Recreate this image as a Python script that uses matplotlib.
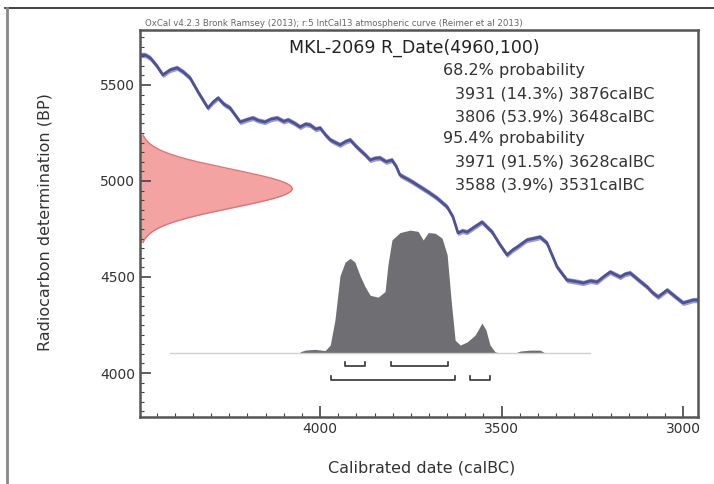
import numpy as np
import matplotlib
matplotlib.use("Agg")
import matplotlib.pyplot as plt
from matplotlib.lines import Line2D
from matplotlib.ticker import MultipleLocator

# IntCal13 curve (calBC, BP)
curve_year = [4493, 4482, 4468, 4450, 4433, 4413, 4394, 4377, 4358, 4335, 4309, 4295,
              4281, 4265, 4248, 4220, 4200, 4185, 4170, 4152, 4135, 4118, 4100, 4088,
              4070, 4055, 4040, 4028, 4012, 4000, 3985, 3972, 3958, 3945, 3930, 3917,
              3903, 3890, 3875, 3862, 3848, 3835, 3818, 3802, 3790, 3780, 3750, 3724,
              3700, 3678, 3650, 3634, 3620, 3608, 3595, 3575, 3554, 3540, 3526, 3505,
              3485, 3470, 3457, 3430, 3412, 3394, 3375, 3360, 3347, 3320, 3300, 3275,
              3255, 3237, 3220, 3201, 3173, 3160, 3146, 3120, 3099, 3085, 3069, 3044,
              3020, 3000, 2972, 2959]
curve_bp = [5656, 5656, 5641, 5600, 5552, 5578, 5589, 5568, 5536, 5460, 5380, 5410,
            5432, 5400, 5380, 5307, 5320, 5328, 5315, 5307, 5322, 5328, 5310, 5318,
            5300, 5281, 5296, 5292, 5270, 5276, 5240, 5214, 5200, 5188, 5205, 5214,
            5185, 5161, 5135, 5109, 5118, 5120, 5100, 5109, 5075, 5031, 5000, 4969,
            4940, 4911, 4865, 4813, 4729, 4740, 4734, 4760, 4786, 4760, 4734, 4670,
            4615, 4640, 4656, 4693, 4700, 4708, 4677, 4610, 4552, 4484, 4478, 4469,
            4480, 4474, 4500, 4526, 4500, 4515, 4521, 4480, 4448, 4420, 4396, 4432,
            4395, 4365, 4380, 4380]

# calibrated probability (relative)
cal_year = [4055, 4041, 4014, 3986, 3972, 3959, 3945, 3931, 3917, 3904, 3890, 3876,
            3862, 3840, 3821, 3813, 3802, 3780, 3752, 3730, 3716, 3702, 3683, 3664,
            3650, 3639, 3628, 3614, 3595, 3573, 3554, 3543, 3532, 3518, 3504, 3463,
            3449, 3421, 3394, 3380]
cal_prob = [0.01, 0.024, 0.03, 0.02, 0.065, 0.27, 0.63, 0.74, 0.77, 0.74, 0.63, 0.54,
            0.47, 0.455, 0.50, 0.72, 0.92, 0.98, 1.0, 0.99, 0.92, 0.98, 0.975, 0.935,
            0.80, 0.43, 0.105, 0.065, 0.09, 0.146, 0.244, 0.187, 0.065, 0.01, 0.0, 0.0,
            0.016, 0.024, 0.024, 0.0]

# ranges (from, to) calBC
ranges_68 = [(3931, 3876), (3806, 3648)]
ranges_95 = [(3971, 3628), (3588, 3531)]

r_date = 4960
r_err = 100

title = "MKL-2069 R_Date(4960,100)"
header = "OxCal v4.2.3 Bronk Ramsey (2013); r:5 IntCal13 atmospheric curve (Reimer et al 2013)"
prob_lines = ["68.2% probability",
              "3931 (14.3%) 3876calBC",
              "3806 (53.9%) 3648calBC",
              "95.4% probability",
              "3971 (91.5%) 3628calBC",
              "3588 (3.9%) 3531calBC"]

W, H = 714, 484
fig = plt.figure(figsize=(W / 100, H / 100), dpi=100)
ax = fig.add_axes([140 / W, 1 - 417 / H, 558 / W, 387 / H])

x_left, x_right = 4496, 2959
y_bot, y_top = 3771, 5786
ax.set_xlim(x_left, x_right)
ax.set_ylim(y_bot, y_top)

# radiocarbon date on the y axis
yy = np.linspace(r_date - 2.8 * r_err, r_date + 2.8 * r_err, 200)
dens = np.exp(-0.5 * ((yy - r_date) / r_err) ** 2)
ax.fill_betweenx(yy, x_left, x_left - 419 * dens, color="#f4a3a3", lw=0)
ax.plot(x_left - 419 * dens, yy, color="#d77777", lw=1)

# calibration curve
cy = np.array(curve_bp)
ax.fill_between(curve_year, cy - 14, cy + 14, color="#9a9dcc", lw=0)
ax.plot(curve_year, curve_bp, color="#4e5293", lw=2)

# calibrated distribution
base = 4104
ax.plot([4413, 3256], [base, base], color="#d0d0d0", lw=1)
ax.fill_between(cal_year, base, base + 640 * np.array(cal_prob), color="#6e6e73", lw=0)

# range brackets
def bracket(r, y):
    a, b = r
    ax.plot([a, a, b, b], [y + 20, y, y, y + 20], color="#333333", lw=1.2)

for r in ranges_68:
    bracket(r, 4037)
for r in ranges_95:
    bracket(r, 3964)

ax.xaxis.set_major_locator(MultipleLocator(500))
ax.xaxis.set_minor_locator(MultipleLocator(50))
ax.yaxis.set_major_locator(MultipleLocator(500))
ax.yaxis.set_minor_locator(MultipleLocator(50))
ax.tick_params(which="both", direction="in", top=False, right=False,
               colors="#444444", labelcolor="#333333", labelsize=10)
ax.tick_params(which="major", length=8, width=1.2)
ax.tick_params(which="minor", length=3, width=0.8)
for s in ax.spines.values():
    s.set_color("#555555")
    s.set_linewidth(1.8)

fig.text(414 / W, 1 - 48 / H, title, ha="center", va="center", fontsize=12.5, color="#222222")
fig.text(145 / W, 1 - 23 / H, header, ha="left", va="center", fontsize=6.2, color="#666666")
px = [443, 455, 455, 443, 455, 455]
py = [70, 94, 117, 139, 162, 185]
for t, x, y in zip(prob_lines, px, py):
    fig.text(x / W, 1 - y / H, t, ha="left", va="center", fontsize=11.5, color="#333333")

fig.text(45 / W, 1 - 222 / H, "Radiocarbon determination (BP)", rotation=90,
         ha="center", va="center", fontsize=11.5, color="#333333")
fig.text(422 / W, 1 - 468 / H, "Calibrated date (calBC)",
         ha="center", va="center", fontsize=11.5, color="#333333")

# outer frame of the screenshot
fig.add_artist(Line2D([5 / W, 1], [1 - 8 / H, 1 - 8 / H], color="#222222", lw=1.2))
fig.add_artist(Line2D([7 / W, 7 / W], [0, 1 - 8 / H], color="#888888", lw=2))

fig.savefig("out.png", dpi=100)
